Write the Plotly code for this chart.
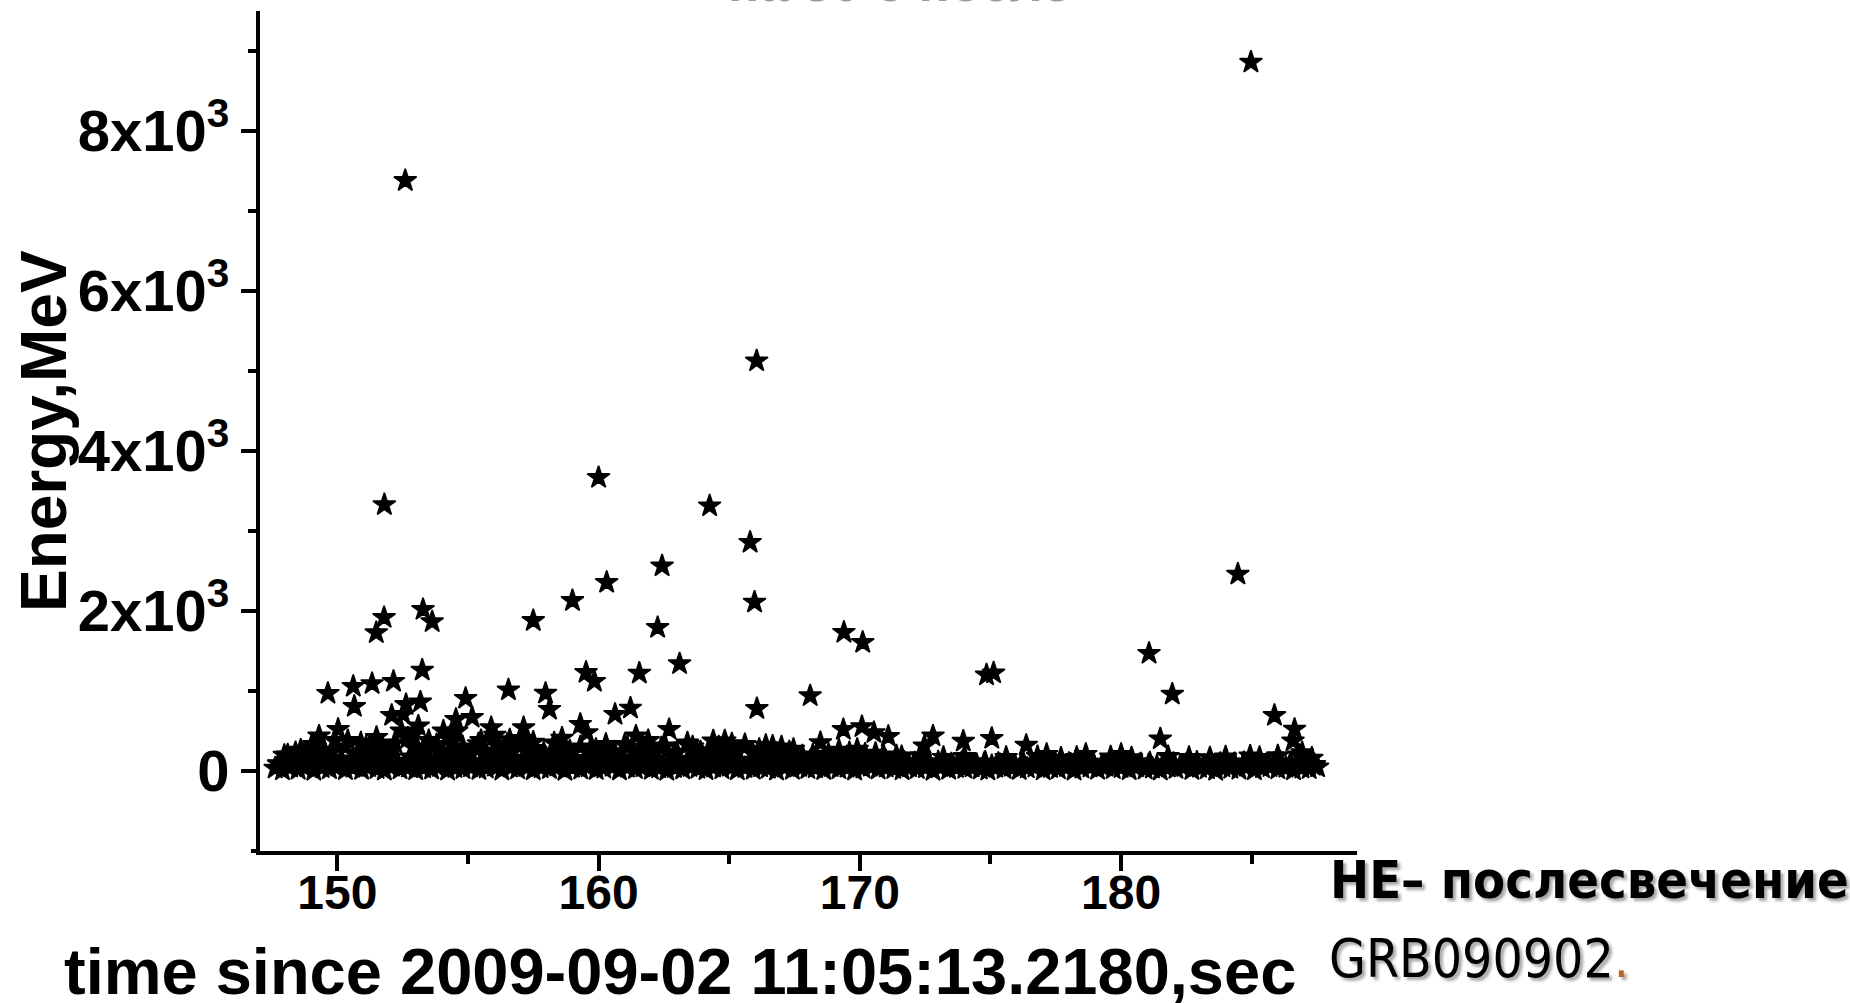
import plotly.graph_objects as go

# ---- photon events: arrival time (s) and energy (MeV) ----
# bright events standing above the main cloud
peak_t = [184.97, 152.6, 166.05, 160.0, 151.8, 164.25, 165.8, 184.47, 162.43, 160.31,
          159.0, 165.97, 153.28, 153.63, 151.79, 151.49, 157.5, 162.26, 169.39, 170.11,
          181.07, 153.25, 159.52, 159.84, 161.56, 163.1, 174.85, 175.12, 152.15, 151.33,
          150.61, 149.64, 150.65, 156.55, 157.97, 158.12, 181.96, 168.1, 166.06, 161.22,
          160.63, 185.87, 153.18, 152.63, 154.91, 155.16, 169.37, 170.08, 170.54, 171.09,
          186.64, 186.58, 181.5, 175.05, 172.8, 173.96, 162.7, 149.3, 150.03, 152.08,
          152.52, 152.45, 153.1, 154.06, 154.54, 154.57, 155.89, 156.03, 157.13, 157.13,
          159.3, 159.55, 160.28, 161.43, 162.55, 164.39, 164.83, 166.15, 166.66, 167.46,
          168.49, 169.9, 170.6, 172.47, 176.37, 177.15, 178.65, 180.0, 184.94, 186.93,
          147.97, 149.0, 149.9, 150.9, 151.5, 152.9, 153.5, 154.3, 155.5, 156.5,
          157.5, 158.6, 161.9, 163.4, 165.1, 167.0]
peak_e = [8860, 7380, 5126, 3668, 3329, 3314, 2858, 2460, 2563, 2357,
          2130, 2110, 2018, 1865, 1918, 1728, 1880, 1793, 1733, 1607,
          1470, 1260, 1232, 1120, 1222, 1340, 1200, 1225, 1120, 1092,
          1058, 970, 807, 1013, 971, 770, 960, 940, 780, 786,
          708, 694, 862, 830, 908, 670, 518, 553, 479, 432,
          521, 375, 401, 407, 437, 372, 518, 437, 520, 695,
          708, 499, 562, 499, 645, 499, 541, 446, 541, 408,
          583, 479, 333, 437, 312, 375, 375, 271, 312, 271,
          354, 271, 221, 312, 321, 208, 208, 208, 187, 229,
          196, 300, 380, 350, 420, 450, 380, 420, 380, 330,
          360, 410, 380, 330, 340, 300]

# dense low-energy cloud, lowest layer
low_t = [147.62, 147.9, 148.21, 148.5, 148.83, 149.1, 149.42, 149.7, 150.02, 150.31,
         150.6, 150.93, 151.2, 151.52, 151.8, 152.11, 152.4, 152.72, 153.0, 153.3,
         153.61, 153.9, 154.22, 154.5, 154.81, 155.1, 155.42, 155.7, 156.01, 156.3,
         156.62, 156.9, 157.21, 157.5, 157.8, 158.12, 158.4, 158.71, 159.0, 159.32,
         159.6, 159.91, 160.2, 160.52, 160.8, 161.1, 161.41, 161.7, 162.02, 162.3,
         162.61, 162.9, 163.22, 163.5, 163.8, 164.11, 164.4, 164.72, 165.0, 165.31,
         165.6, 165.92, 166.2, 166.5, 166.81, 167.1, 167.42, 167.7, 168.01, 168.3,
         168.62, 168.9, 169.2, 169.51, 169.8, 170.12, 170.4, 170.7, 171.01, 171.3,
         171.62, 171.9, 172.2, 172.51, 172.8, 173.11, 173.4, 173.7, 174.02, 174.3,
         174.61, 174.9, 175.2, 175.52, 175.8, 176.1, 176.41, 176.7, 177.02, 177.3,
         177.6, 177.91, 178.2, 178.5, 178.81, 179.1, 179.42, 179.7, 180.0, 180.31,
         180.6, 180.92, 181.2, 181.5, 181.81, 182.1, 182.4, 182.71, 183.0, 183.3,
         183.62, 183.9, 184.2, 184.51, 184.8, 185.1, 185.41, 185.7, 186.0, 186.31,
         186.6, 186.92, 187.2, 187.52]
low_e = [35, 12, 48, 20, 55, 8, 40, 26, 60, 15,
         44, 18, 52, 30, 10, 58, 25, 47, 14, 38,
         22, 55, 9, 41, 28, 50, 16, 36, 57, 11,
         46, 24, 53, 13, 39, 29, 59, 7, 43, 21,
         51, 17, 34, 56, 10, 45, 27, 49, 19, 37,
         8, 42, 23, 54, 31, 14, 48, 26, 58, 12,
         40, 20, 50, 33, 9, 46, 18, 55, 28, 38,
         15, 52, 24, 44, 11, 36, 57, 21, 47, 30,
         13, 49, 27, 39, 6, 55, 19, 42, 32, 50,
         22, 10, 45, 29, 56, 16, 37, 48, 12, 41,
         25, 53, 9, 34, 46, 18, 58, 27, 40, 14,
         51, 23, 35, 11, 47, 30, 55, 17, 43, 26,
         8, 49, 33, 20, 57, 14, 39, 52, 24, 44,
         12, 36, 28, 50]

# second layer of the cloud
low2_t = [147.77, 148.05, 148.37, 148.66, 148.96, 149.27, 149.55, 149.86, 150.17, 150.45,
          150.77, 151.06, 151.35, 151.67, 151.95, 152.26, 152.57, 152.86, 153.15, 153.46,
          153.75, 154.07, 154.36, 154.65, 154.97, 155.26, 155.55, 155.87, 156.16, 156.45,
          156.77, 157.05, 157.36, 157.66, 157.95, 158.27, 158.56, 158.85, 159.17, 159.46,
          159.75, 160.07, 160.35, 160.66, 160.96, 161.25, 161.57, 161.86, 162.15, 162.47,
          162.76, 163.05, 163.37, 163.66, 163.95, 164.27, 164.56, 164.85, 165.17, 165.46,
          165.75, 166.07, 166.35, 166.66, 166.96, 167.25, 167.57, 167.86, 168.15, 168.47,
          168.76, 169.05, 169.37, 169.66, 169.95, 170.27, 170.56, 170.85, 171.17, 171.46,
          171.75, 172.07, 172.35, 172.66, 172.96, 173.25, 173.57, 173.86, 174.15, 174.47,
          174.76, 175.05, 175.37, 175.66, 175.95, 176.27, 176.56, 176.85, 177.17, 177.46,
          177.75, 178.07, 178.35, 178.66, 178.96, 179.25, 179.57, 179.86, 180.15, 180.47,
          180.76, 181.05, 181.37, 181.66, 181.95, 182.27, 182.56, 182.85, 183.17, 183.46,
          183.75, 184.07, 184.35, 184.66, 184.96, 185.25, 185.57, 185.86, 186.15, 186.47,
          186.76, 187.05, 187.36]
low2_e = [85, 70, 95, 62, 100, 78, 90, 66, 105, 74,
          92, 68, 98, 80, 72, 104, 64, 88, 76, 96,
          70, 102, 82, 66, 94, 74, 99, 86, 63, 91,
          77, 101, 69, 93, 84, 65, 97, 79, 88, 71,
          103, 67, 90, 81, 75, 98, 62, 87, 95, 73,
          89, 64, 100, 78, 92, 70, 85, 96, 66, 83,
          74, 99, 61, 88, 94, 72, 81, 65, 97, 79,
          86, 70, 93, 76, 62, 90, 80, 68, 95, 74,
          64, 88, 77, 92, 70, 84, 66, 90, 73, 81,
          95, 68, 79, 87, 63, 91, 75, 82, 69, 93,
          72, 86, 65, 89, 78, 62, 94, 71, 84, 67,
          90, 76, 63, 87, 80, 69, 92, 74, 66, 85,
          79, 62, 91, 73, 88, 67, 82, 95, 70, 86,
          74, 90, 68]

mid_t = [147.75, 148.3, 148.7, 149.25, 149.6, 150.15, 150.5, 151.0, 151.4, 151.9,
         152.3, 152.8, 153.2, 153.7, 154.1, 154.6, 155.0, 155.5, 155.9, 156.4,
         156.8, 157.3, 157.7, 158.2, 158.6, 159.1, 159.5, 160.0, 160.4, 160.9,
         161.3, 161.8, 162.2, 162.7, 163.1, 163.6, 164.0, 164.5, 164.9, 165.4,
         165.8, 166.3, 166.7, 167.2, 167.6, 168.1, 168.5, 169.0, 169.4, 169.9,
         170.3, 170.8, 171.2, 171.7, 172.1, 172.6, 173.0, 173.5, 173.9, 174.4,
         174.8, 175.3, 175.7, 176.2, 176.6, 177.1, 177.5, 178.0, 178.4, 178.9,
         179.3, 179.8, 180.2, 180.7, 181.1, 181.6, 182.0, 182.5, 182.9, 183.4,
         183.8, 184.3, 184.7, 185.2, 185.6, 186.1, 186.5, 187.0, 187.4]
mid_e = [90, 140, 110, 170, 125, 150, 95, 180, 135, 160,
         120, 175, 145, 100, 165, 130, 185, 115, 150, 170,
         105, 160, 135, 180, 120, 155, 95, 170, 140, 115,
         165, 130, 150, 105, 145, 125, 170, 110, 155, 135,
         100, 140, 115, 130, 90, 125, 105, 145, 110, 130,
         95, 120, 85, 110, 100, 75, 115, 90, 105, 80,
         110, 95, 70, 100, 85, 115, 75, 95, 80, 105,
         70, 90, 110, 80, 100, 75, 95, 85, 110, 70,
         95, 80, 105, 90, 75, 110, 85, 100, 80]

upper_t = [148.4, 148.9, 149.5, 150.3, 150.8, 151.2, 151.7, 152.0, 152.9, 153.4,
           153.8, 154.3, 155.3, 155.7, 156.2, 156.7, 157.5, 157.9, 158.5, 158.9,
           159.7, 160.6, 161.1, 161.6, 162.1, 163.0, 163.6, 164.2, 164.7, 165.3,
           165.6, 166.5, 167.0, 167.8, 168.8, 169.6, 170.9, 171.6, 172.3, 173.2,
           174.0, 175.6, 176.8, 177.7, 178.3, 179.6, 180.4, 181.8, 182.6, 183.4,
           184.0, 185.3, 186.0, 186.8, 187.3,
           148.1, 148.6, 149.1, 149.8, 150.4, 151.1, 151.6, 152.2, 152.7, 153.3,
           153.9, 154.4, 154.8, 155.4, 156.0, 156.6, 157.0, 157.6, 158.3, 158.8,
           159.3, 159.9, 160.5, 161.0, 161.6, 162.4, 162.9, 163.4, 163.9, 164.6,
           165.1, 165.9, 166.4, 167.3, 168.2, 169.2, 170.2, 171.4]
upper_e = [230, 180, 260, 300, 220, 280, 320, 250, 300, 260,
           330, 240, 280, 220, 300, 260, 280, 230, 320, 250,
           280, 240, 300, 220, 260, 230, 300, 250, 280, 230,
           330, 220, 200, 190, 210, 230, 200, 180, 190, 170,
           180, 170, 180, 160, 170, 175, 165, 180, 170, 165,
           175, 170, 190, 200, 160,
           200, 260, 330, 240, 380, 300, 260, 350, 410, 280,
           240, 370, 300, 340, 250, 390, 310, 260, 350, 230,
           300, 270, 210, 330, 260, 290, 220, 350, 240, 300,
           260, 220, 320, 240, 200, 260, 210, 190]

# ---- axes ----
x_ticks = [150, 160, 170, 180]
x_minor = [155, 165, 175, 185]
y_ticks = [0, 2000, 4000, 6000, 8000]
y_ticktext = ["0", "2x10<sup>3</sup>", "4x10<sup>3</sup>", "6x10<sup>3</sup>", "8x10<sup>3</sup>"]
y_minor = [1000, 3000, 5000, 7000, 9000]

W, H = 1850, 1003
L, R, T, B = 260, 493, 11, 152
PW, PH = W - L - R, H - T - B


def paper_x(px):
    return (px - L) / PW


def paper_y(py):
    return (H - B - py) / PH


t_all = low_t + low2_t + mid_t + upper_t + peak_t
e_all = low_e + low2_e + mid_e + upper_e + peak_e

fig = go.Figure(go.Scatter(
    x=t_all, y=e_all, mode="markers",
    marker=dict(symbol="star", size=17, color="black",
                line=dict(width=1.6, color="black")),
    showlegend=False, hoverinfo="skip",
))

AX_FONT = "Liberation Sans, Arial, sans-serif"
NARROW = "DejaVu Sans Condensed, Liberation Sans Narrow, Arial Narrow, Liberation Sans, sans-serif"

fig.update_layout(
    width=W, height=H,
    margin=dict(l=L, r=R, t=T, b=B, pad=0),
    paper_bgcolor="white", plot_bgcolor="white",
    font=dict(family=AX_FONT, color="black"),
    xaxis=dict(
        range=[147.04, 189.03], showgrid=False, zeroline=False,
        showline=True, linecolor="black", linewidth=4,
        ticks="outside", ticklen=16, tickwidth=3.5, tickcolor="black",
        tickmode="array", tickvals=x_ticks, ticktext=[str(v) for v in x_ticks],
        tickfont=dict(size=48, weight="bold", family=AX_FONT),
        ticklabelstandoff=-20,
        minor=dict(tickmode="array", tickvals=x_minor, ticks="outside",
                   ticklen=9, tickwidth=3.5, tickcolor="black", showgrid=False),
    ),
    yaxis=dict(
        range=[-1000, 9500], showgrid=False, zeroline=False,
        showline=True, linecolor="black", linewidth=4,
        ticks="outside", ticklen=15, tickwidth=3.5, tickcolor="black",
        tickmode="array", tickvals=y_ticks, ticktext=y_ticktext,
        tickfont=dict(size=58, weight="bold", family=AX_FONT),
        minor=dict(tickmode="array", tickvals=y_minor, ticks="outside",
                   ticklen=8, tickwidth=3.5, tickcolor="black", showgrid=False),
    ),
)

# short overhang of the time axis to the left of the energy axis
fig.add_shape(type="line", xref="paper", yref="paper",
              x0=paper_x(251), x1=0, y0=0, y1=0,
              line=dict(color="black", width=4))

# axis titles
fig.add_annotation(
    text="Energy,MeV", textangle=-90, showarrow=False,
    xref="paper", yref="paper", x=paper_x(44), y=paper_y(431),
    xanchor="center", yanchor="middle",
    font=dict(family=AX_FONT, size=64, weight="bold", color="black"),
)
fig.add_annotation(
    text="time since 2009-09-02 11:05:13.2180,sec", showarrow=False,
    xref="paper", yref="paper", x=paper_x(62), y=paper_y(971),
    xanchor="left", yanchor="middle",
    font=dict(family=AX_FONT, size=65, weight="bold", color="black"),
)

# caption on the right
fig.add_annotation(
    text="HE– послесвечение", showarrow=False,
    xref="paper", yref="paper", x=paper_x(1328), y=paper_y(880),
    xanchor="left", yanchor="middle",
    font=dict(family=NARROW, size=52, weight="bold", color="black",
              shadow="3px 3px 3px rgba(0,0,0,0.35)"),
)
fig.add_annotation(
    text='GRB090902<span style="color:#c0651f">.</span>', showarrow=False,
    xref="paper", yref="paper", x=paper_x(1327), y=paper_y(958),
    xanchor="left", yanchor="middle",
    font=dict(family=NARROW, size=53, color="black",
              shadow="3px 3px 3px rgba(0,0,0,0.35)"),
)

# heading line above the chart, running off the top edge
fig.add_annotation(
    text="на 30 с после", showarrow=False,
    xref="paper", yref="paper", x=paper_x(899), y=paper_y(14),
    xanchor="center", yanchor="bottom",
    font=dict(family=AX_FONT, size=52, weight="bold", color="#9a9a9a"),
)

fig.write_html("out.html")
